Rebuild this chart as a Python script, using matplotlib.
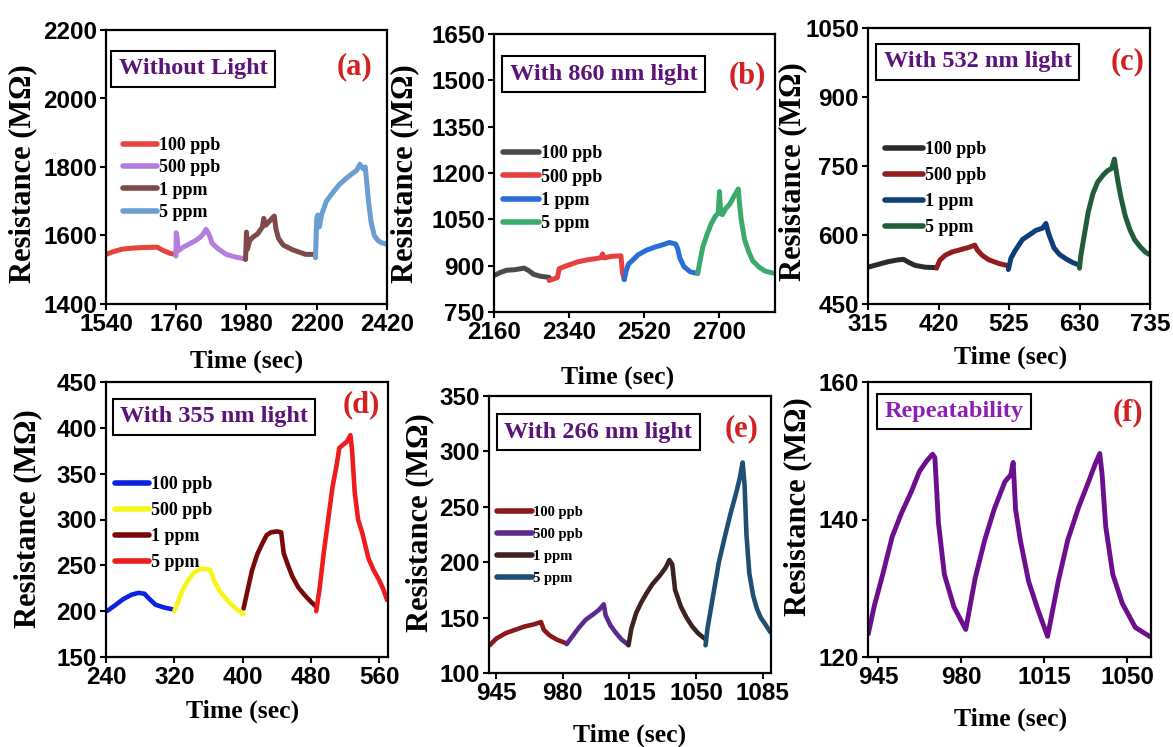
import matplotlib.pyplot as plt

plt.rcParams['font.family'] = 'Liberation Serif'

conc_labels = ['100 ppb', '500 ppb', '1 ppm', '5 ppm']

# (a) without light
a_time = [
    [1540, 1560, 1590, 1620, 1660, 1700, 1720, 1740, 1757],
    [1759, 1760, 1762, 1766, 1780, 1800, 1820, 1835, 1845, 1853, 1860, 1866, 1872, 1890, 1916, 1945, 1975],
    [1977, 1980, 1983, 1990, 2000, 2015, 2030, 2034, 2040, 2050, 2062, 2067, 2072, 2080, 2095, 2125, 2165, 2195],
    [2196, 2200, 2203, 2208, 2215, 2230, 2250, 2270, 2290, 2310, 2325, 2335, 2345, 2352, 2356, 2362, 2370, 2380,
     2392, 2405, 2420],
]
a_res = [
    [1545, 1552, 1560, 1563, 1565, 1566, 1556, 1548, 1545],
    [1540, 1608, 1600, 1555, 1565, 1575, 1585, 1595, 1605, 1618, 1608, 1595, 1578, 1562, 1545, 1537, 1532],
    [1530, 1610, 1560, 1585, 1595, 1605, 1625, 1650, 1630, 1640, 1652, 1657, 1620, 1592, 1572, 1558, 1545, 1545],
    [1535, 1650, 1660, 1625, 1660, 1700, 1725, 1748, 1765, 1780, 1790, 1808, 1795, 1800, 1760, 1700, 1640, 1600,
     1585, 1578, 1575],
]
a_colors = ['#e8423f', '#b47fdc', '#7e4a4a', '#6b9fd1']

# (b) 860 nm
b_time = [
    [2160, 2175, 2190, 2210, 2232, 2242, 2255, 2270, 2292],
    [2292, 2305, 2312, 2316, 2328, 2345, 2360, 2380, 2400, 2416, 2420, 2424, 2440, 2464, 2468, 2472],
    [2472, 2476, 2482, 2490, 2505, 2525, 2545, 2565, 2580, 2595, 2600, 2605, 2615, 2630, 2648],
    [2648, 2652, 2660, 2670, 2680, 2690, 2697, 2700, 2703, 2707, 2715, 2725, 2735, 2745, 2748, 2752, 2760, 2770,
     2780, 2795, 2810, 2832],
]
b_res = [
    [868, 878, 885, 887, 892, 885, 872, 866, 862],
    [852, 858, 862, 890, 897, 905, 912, 918, 922, 926, 938, 925, 930, 932, 875, 855],
    [855, 880, 905, 915, 935, 950, 960, 968, 975, 970, 955, 925, 897, 880, 875],
    [875, 905, 960, 1000, 1035, 1060, 1070, 1140, 1070, 1065, 1085, 1100, 1125, 1148, 1100, 1050, 985, 945,
     915, 895, 882, 875],
]
b_colors = ['#4a4a4a', '#e64040', '#2a6fd6', '#3bab6c']

# (c) 532 nm
c_time = [
    [315, 330, 345, 360, 368, 375, 385, 400, 417],
    [417, 422, 430, 440, 455, 465, 474, 478, 485, 495, 510, 524],
    [524, 528, 535, 545, 555, 565, 575, 580, 584, 592, 600, 610, 620, 629],
    [630, 632, 636, 643, 650, 657, 665, 672, 678, 682, 684, 688, 692, 698, 705, 712, 720, 728, 735],
]
c_res = [
    [530, 536, 542, 546, 547, 541, 534, 530, 529],
    [528, 545, 556, 563, 569, 573, 578, 567, 556, 546, 538, 533],
    [525, 550, 568, 590, 600, 610, 615, 625, 603, 572, 558, 548, 540, 535],
    [528, 555, 590, 650, 690, 715, 730, 740, 745, 765, 745, 710, 680, 642, 612, 590, 575, 563, 557],
]
c_colors = ['#2b2b2b', '#931c1c', '#0f3d7a', '#215c3b']

# (d) 355 nm
d_time = [
    [241, 250, 260, 270, 278, 285, 290, 298, 308, 318],
    [320, 325, 330, 337, 343, 350, 357, 362, 367, 373, 380, 387, 393, 401],
    [401, 405, 411, 417, 423, 428, 433, 440, 445, 448, 453, 458, 465, 472, 480, 486],
    [486, 490, 495, 500, 505, 510, 513, 518, 522, 526, 528, 531, 535, 540, 547, 553, 559, 564, 569],
]
d_res = [
    [200, 206, 213, 218, 220, 219, 214, 207, 204, 202],
    [200, 212, 224, 235, 242, 246, 246, 245, 232, 222, 214, 207, 202, 197],
    [203, 220, 245, 262, 274, 283, 286, 287, 286, 263, 250, 238, 226, 218, 210, 205],
    [200, 225, 265, 300, 335, 360, 378, 382, 385, 392, 375, 330, 300, 285, 258, 245, 235, 225, 212],
]
d_colors = ['#0b22e0', '#f7f51a', '#780a0a', '#ee1c1c']

# (e) 266 nm
e_time = [
    [941.5, 945, 950, 955, 960, 965, 968.5, 970, 973, 977, 981.5],
    [982, 985, 988, 992, 996, 999, 1001.5, 1002.5, 1005, 1008, 1011, 1014],
    [1014.5, 1016, 1018.5, 1021, 1024, 1027, 1031, 1034, 1036, 1037.5, 1039, 1042, 1045, 1048, 1051, 1054.5],
    [1055, 1056, 1058, 1062, 1065, 1068, 1071, 1073, 1074.5, 1075.5, 1076.5, 1078, 1080, 1082, 1084, 1086, 1089],
]
e_res = [
    [125, 131, 136, 139, 142, 144, 146, 139, 134, 130, 127],
    [126, 133, 140, 148, 153, 157, 162, 152, 143, 136, 130, 126],
    [125, 140, 154, 163, 172, 180, 188, 195, 202, 198, 175, 160, 150, 142, 136, 131],
    [125, 140, 160, 200, 222, 243, 262, 276, 290, 270, 225, 190, 170, 158, 150, 145, 137],
]
e_colors = ['#8a1a1a', '#5a2a8c', '#3e2222', '#1f4f73']

# (f) repeatability
f_time = [941, 943.5, 947, 951, 955, 959, 962.5, 965.5, 968, 969, 970.5, 973, 977, 982,
          986, 990, 994, 998.5, 1001, 1002, 1003, 1005, 1008.5, 1012.5, 1016.5,
          1021, 1025, 1029.5, 1034, 1036.5, 1038.5, 1039.5, 1041, 1044, 1048, 1053.5, 1059.5]
f_res = [123.5, 127.5, 132, 137.5, 141, 144, 147, 148.5, 149.5, 149, 139.5, 132, 127.3, 124,
         131.5, 137, 141.5, 145.5, 146.5, 148.3, 141.5, 137, 131, 126.8, 123,
         131, 137, 141.7, 145.7, 148, 149.6, 146.5, 139, 132, 127.8, 124.3, 123]
f_color = '#6c0f8f'

W, H = 1173, 747


def make_axes(fig, left, top, right, bottom):
    return fig.add_axes([left / W, 1 - bottom / H, (right - left) / W, (bottom - top) / H])


def style_axes(ax, xlim, xticks, ylim, yticks, title, tag, title_pos, tag_pos,
               ylab_pos, xlab_pos, title_color='#5c1479'):
    ax.set_xlim(xlim)
    ax.set_ylim(ylim)
    ax.set_xticks(xticks)
    ax.set_yticks(yticks)
    for s in ax.spines.values():
        s.set_linewidth(1.6)
    ax.tick_params(direction='out', length=4, width=1.5, pad=2.5)
    for lab in ax.get_xticklabels() + ax.get_yticklabels():
        lab.set_fontfamily('Liberation Sans')
        lab.set_fontweight('bold')
        lab.set_fontsize(17.5)
    ax.set_ylabel('Resistance (MΩ)', fontsize=22, fontweight='bold', va='center')
    ax.yaxis.set_label_coords(*ylab_pos)
    ax.set_xlabel('Time (sec)', fontsize=18.5, fontweight='bold', va='center')
    ax.xaxis.set_label_coords(*xlab_pos)
    ax.text(title_pos[0], title_pos[1], title, transform=ax.transAxes, fontsize=17.5,
            fontweight='bold', color=title_color, ha='left', va='center',
            bbox=dict(boxstyle='square,pad=0.3', fc='white', ec='black', lw=1.5))
    ax.text(tag_pos[0], tag_pos[1], tag, transform=ax.transAxes, fontsize=22,
            fontweight='bold', color='#d42020', ha='center', va='center')


def draw_segments(ax, times, values, colors, leg_pos, fsize=13, hlen=1.9, spacing=0.3, lw=3.6):
    for t, r, c, lab in zip(times, values, colors, conc_labels):
        ax.plot(t, r, color=c, lw=lw, label=lab, solid_joinstyle='round', solid_capstyle='round')
    leg = ax.legend(loc='upper left', bbox_to_anchor=leg_pos, frameon=False,
                    handlelength=hlen, handletextpad=0.1, labelspacing=spacing,
                    borderpad=0, borderaxespad=0,
                    prop={'family': 'Liberation Serif', 'weight': 'bold', 'size': fsize})
    for h in leg.get_lines():
        h.set_linewidth(4)


fig = plt.figure(figsize=(W / 100, H / 100), dpi=100)

ax_a = make_axes(fig, 106, 30, 387, 304)
draw_segments(ax_a, a_time, a_res, a_colors, (0.06, 0.61), spacing=0.3)
style_axes(ax_a, (1540, 2420), [1540, 1760, 1980, 2200, 2420], (1400, 2200), [1400, 1600, 1800, 2000, 2200],
           'Without Light', '(a)', (0.045, 0.858), (0.886, 0.865), (-0.295, 0.476), (0.5, -0.208))

ax_b = make_axes(fig, 494, 34, 775, 312)
draw_segments(ax_b, b_time, b_res, b_colors, (0.032, 0.60), hlen=2.0, spacing=0.35)
style_axes(ax_b, (2160, 2833), [2160, 2340, 2520, 2700], (750, 1650), [750, 900, 1050, 1200, 1350, 1500, 1650],
           'With 860 nm light', '(b)', (0.056, 0.856), (0.90, 0.849), (-0.317, 0.496), (0.44, -0.234))

ax_c = make_axes(fig, 868, 28, 1150, 304)
draw_segments(ax_c, c_time, c_res, c_colors, (0.06, 0.59), hlen=2.1, spacing=0.5)
style_axes(ax_c, (315, 735), [315, 420, 525, 630, 735], (450, 1050), [450, 600, 750, 900, 1050],
           'With 532 nm light', '(c)', (0.055, 0.877), (0.922, 0.877), (-0.266, 0.478), (0.507, -0.194))

ax_d = make_axes(fig, 106, 382, 388, 657)
draw_segments(ax_d, d_time, d_res, d_colors, (0.032, 0.657), hlen=1.9, spacing=0.5, lw=3.3)
style_axes(ax_d, (240, 570), [240, 320, 400, 480, 560], (150, 450), [150, 200, 250, 300, 350, 400, 450],
           'With 355 nm light', '(d)', (0.05, 0.873), (0.904, 0.916), (-0.277, 0.502), (0.484, -0.198))

ax_e = make_axes(fig, 489, 396, 771, 673)
draw_segments(ax_e, e_time, e_res, e_colors, (0.028, 0.602), fsize=10.5, hlen=2.4, spacing=0.6, lw=3.3)
style_axes(ax_e, (941.2, 1089.4), [945, 980, 1015, 1050, 1085], (100, 350), [100, 150, 200, 250, 300, 350],
           'With 266 nm light', '(e)', (0.054, 0.87), (0.897, 0.881), (-0.245, 0.542), (0.5, -0.224))

ax_f = make_axes(fig, 868, 382, 1151, 657)
ax_f.plot(f_time, f_res, color=f_color, lw=3.5, solid_joinstyle='round')
style_axes(ax_f, (940.8, 1060.1), [945, 980, 1015, 1050], (120, 160), [120, 140, 160],
           'Repeatability', '(f)', (0.058, 0.893), (0.919, 0.887), (-0.247, 0.545), (0.505, -0.225),
           title_color='#8e1fb5')

fig.savefig('out.png', dpi=100)
